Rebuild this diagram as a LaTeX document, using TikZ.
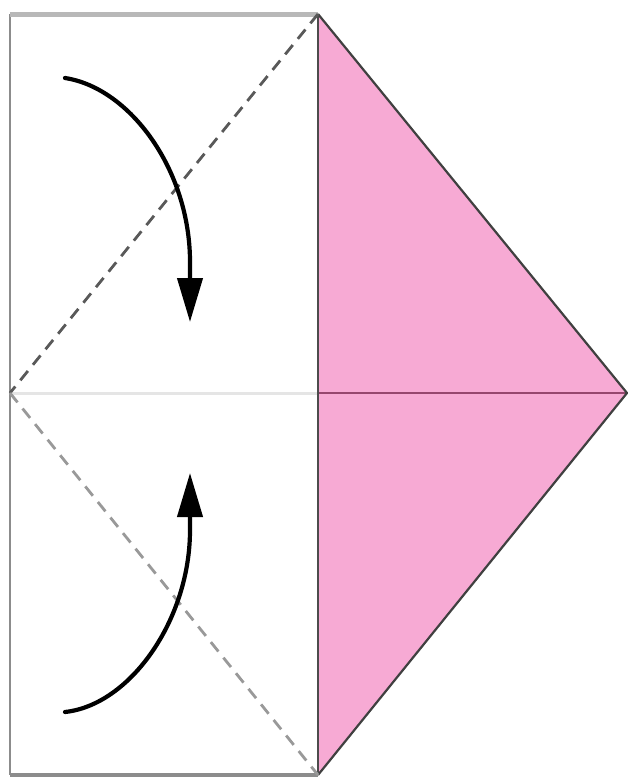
\documentclass[tikz,border=0pt]{standalone}
\usetikzlibrary{arrows.meta}
\definecolor{paperpink}{RGB}{247,170,212}
\definecolor{creasepink}{RGB}{150,70,110}
\tikzset{
  foldarrow/.style={line width=4.2pt,line cap=round,-{Triangle[length=44pt,width=25pt]}},
  valley/.style={line width=2.8pt,dash pattern=on 12pt off 8pt},
}
\begin{document}
\begin{tikzpicture}[x=1pt,y=-1pt]
\useasboundingbox (0,0) rectangle (629,779);
\fill[white] (0,0) rectangle (629,779);
\coordinate (TL) at (10,14);
\coordinate (TR) at (318,14);
\coordinate (BL) at (10,775);
\coordinate (BR) at (318,775);
\coordinate (ML) at (10,393);
\coordinate (MR) at (318,393);
\coordinate (AP) at (627,393);
% pink triangle
\fill[paperpink] (TR) -- (AP) -- (BR) -- cycle;
\draw[creasepink,line width=2.5pt] (MR) -- (AP);
\draw[black!75,line width=2.2pt,line join=round] (TR) -- (AP) -- (BR);
% white rectangle edges
\draw[black!10,line width=3pt] (ML) -- (MR);
\draw[black!45,line width=2.5pt] (TL) -- (BL);
\draw[black!28,line width=5pt] (TL) -- (TR);
\draw[black!45,line width=3.5pt] (BL) -- (BR);
\draw[black!70,line width=2.5pt] (TR) -- (BR);
% valley folds
\draw[valley,black!65] (TR) -- (ML);
\draw[valley,black!40] (ML) -- (BR);
% fold arrows
\draw[foldarrow] (65,78) .. controls (130,88) and (190,170) .. (190,262) -- (190,322);
\draw[foldarrow] (65,712) .. controls (130,705) and (190,620) .. (190,530) -- (190,473);
\end{tikzpicture}
\end{document}
